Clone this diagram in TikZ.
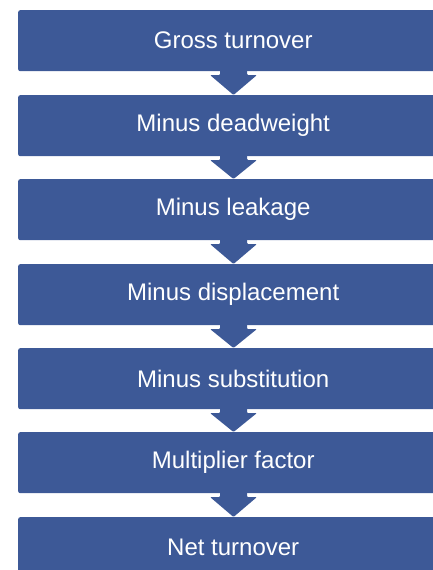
\documentclass[tikz,border=0pt]{standalone}
\usepackage{fontspec}
\setmainfont{Liberation Sans}
\usetikzlibrary{calc}
\definecolor{boxblue}{RGB}{61,89,151}
\tikzset{
  stepbox/.style={fill=boxblue, draw=none, rounded corners=2pt, minimum width=430pt, minimum height=61pt, inner sep=0pt, text=white, font=\fontsize{24}{28}\selectfont, anchor=north west},
  downarrow/.style={fill=boxblue, draw=none, rounded corners=1pt}
}
\begin{document}
\begin{tikzpicture}[x=1pt,y=1pt]
\useasboundingbox (0,0) rectangle (432,-570);
\foreach \i/\t/\y in {1/Gross turnover/10, 2/Minus deadweight/95, 3/Minus leakage/179, 4/Minus displacement/264, 5/Minus substitution/348, 6/Multiplier factor/432, 7/Net turnover/517}{
  \coordinate (c\i) at (18,-\y);
}
\foreach \i in {1,...,6}{
  \pgfmathtruncatemacro{\j}{\i+1}
  \path let \p1=(c\i), \p2=(c\j) in
    coordinate (s\i) at (233.5,\y1-61)
    coordinate (e\i) at (233.5,\y2);
  \fill[downarrow] ($(s\i)+(-13.5,5)$) -- ($(s\i)+(13.5,5)$) -- ($(s\i)+(13.5,-4)$) -- ($(s\i)+(23.5,-4)$) -- (e\i) -- ($(s\i)+(-23.5,-4)$) -- ($(s\i)+(-13.5,-4)$) -- cycle;
}
\node[stepbox] (b1) at (c1) {Gross turnover};
\node[stepbox] (b2) at (c2) {Minus deadweight};
\node[stepbox] (b3) at (c3) {Minus leakage};
\node[stepbox] (b4) at (c4) {Minus displacement};
\node[stepbox] (b5) at (c5) {Minus substitution};
\node[stepbox] (b6) at (c6) {Multiplier factor};
\node[stepbox] (b7) at (c7) {Net turnover};
\end{tikzpicture}
\end{document}
